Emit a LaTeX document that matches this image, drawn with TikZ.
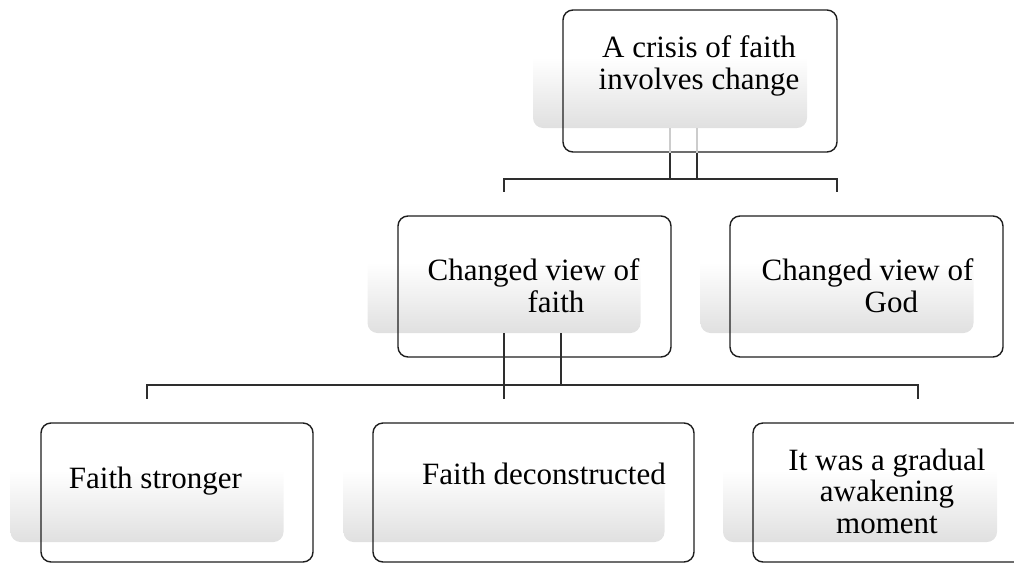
\documentclass[tikz,border=0pt]{standalone}
\usepackage{fontspec}
\setmainfont{Liberation Serif}
\usetikzlibrary{positioning,calc}
\definecolor{ink}{HTML}{1E1E1E}
\definecolor{wire}{HTML}{2E2E2E}
\definecolor{mist}{HTML}{E0E0E0}

\begin{document}
\begin{tikzpicture}[x=1pt,y=-1pt,
  glow/.style={rectangle,rounded corners=10pt,inner sep=0pt,top color=white,bottom color=mist,middle color=white},
  card/.style={rectangle,rounded corners=10pt,inner sep=0pt,draw=ink,line width=1.4pt},
  link/.style={wire,line width=1.5pt},
  faint/.style={black!20,line width=1.5pt},
  wording/.style={inner sep=0pt,font=\fontsize{31}{31.5}\selectfont}]
  \useasboundingbox (0,0) rectangle (1014,563);
  % shaded backs
  \node[glow,minimum width=274pt,minimum height=142pt] (crisisSh) at (670,57) {};
  \node[glow,minimum width=273pt,minimum height=141pt] (faithSh) at (504,262.5) {};
  \node[glow,minimum width=273pt,minimum height=141pt] (godSh) at (837,262.5) {};
  \node[glow,minimum width=273pt,minimum height=143pt] (strongSh) at (147,470.5) {};
  \node[glow,minimum width=321pt,minimum height=143pt] (deconSh) at (504,470.5) {};
  \node[glow,minimum width=274pt,minimum height=143pt] (gradualSh) at (860,470.5) {};
  % outlines
  \node[card,minimum width=274pt,minimum height=142pt] (crisis) at (700,81) {};
  \node[card,minimum width=273pt,minimum height=141pt] (faith) at (534.5,286.5) {};
  \node[card,minimum width=273pt,minimum height=141pt] (god) at (866.5,286.5) {};
  \node[card,minimum width=272pt,minimum height=139pt] (strong) at (177,492.5) {};
  \node[card,minimum width=321pt,minimum height=139pt] (decon) at (533.5,492.5) {};
  \node[card,minimum width=274pt,minimum height=139pt] (gradual) at (890,492.5) {};
  % connectors
  \coordinate (crisisR) at ([xshift=27pt]crisisSh.south);
  \draw[faint] (crisisSh.south) -- (crisisSh.south |- crisis.south);
  \draw[faint] (crisisR) -- (crisisR |- crisis.south);
  \draw[link] (crisisSh.south |- crisis.south) -- ++(0,27);
  \draw[link] (crisisR |- crisis.south) -- ++(0,27);
  \draw[link] (faithSh.north) -- ++(0,-13) -| (godSh.north);
  \coordinate (faithR) at ([xshift=57pt]faithSh.south);
  \coordinate (gradualTick) at ([xshift=58pt]gradualSh.north);
  \draw[link] (faithSh.south) -- (deconSh.north);
  \draw[link] (faithR) -- ++(0,52);
  \draw[link] (strongSh.north) -- ++(0,-14) -| (gradualTick);
  % texts
  \node[wording,align=center] (crisisTxt) at (699,66) {A crisis of faith\\involves change};
  \node[wording,align=left] (faithTxt) at (533.5,285.5) {Changed view of\\\hspace*{100pt}faith};
  \node[wording,align=left] (godTxt) at (867.5,285.5) {Changed view of\\\hspace*{103pt}God};
  \node[wording] (strongTxt) at (155.5,481) {Faith stronger};
  \node[wording] (deconTxt) at (544,473.5) {Faith deconstructed};
  \node[wording,align=center] (gradualTxt) at (887,491) {It was a gradual\\awakening\\moment};
\end{tikzpicture}
\end{document}
